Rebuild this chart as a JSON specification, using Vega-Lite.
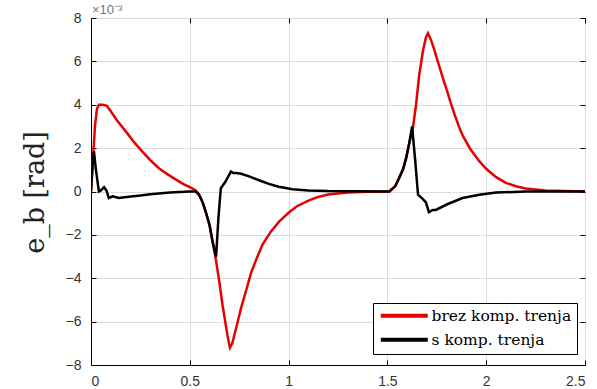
{
  "$schema": "https://vega.github.io/schema/vega-lite/v6.json",
  "width": 494,
  "height": 347,
  "autosize": {"type": "none"},
  "padding": {"left": 91, "top": 18, "right": 12, "bottom": 24},
  "background": "white",
  "title": {"text": "×10⁻³", "anchor": "start", "frame": "group", "fontSize": 13, "fontWeight": "normal", "color": "#777", "font": "Liberation Sans", "offset": -6, "dx": 1},
  "config": {
    "view": {"stroke": "black", "strokeWidth": 1},
    "axis": {"labelFont": "Liberation Sans", "labelFontSize": 14, "labelColor": "#333", "domainColor": "black", "tickColor": "black", "gridColor": "#dcdcdc", "tickSize": -5}
  },
  "data": {"values": [
    {"t":0,"e":0,"s":"brez komp. trenja"},
    {"t":0.01,"e":1.5,"s":"brez komp. trenja"},
    {"t":0.02,"e":3.0,"s":"brez komp. trenja"},
    {"t":0.03,"e":3.8,"s":"brez komp. trenja"},
    {"t":0.04,"e":4.0,"s":"brez komp. trenja"},
    {"t":0.06,"e":4.0,"s":"brez komp. trenja"},
    {"t":0.08,"e":3.95,"s":"brez komp. trenja"},
    {"t":0.10,"e":3.7,"s":"brez komp. trenja"},
    {"t":0.13,"e":3.3,"s":"brez komp. trenja"},
    {"t":0.177,"e":2.76,"s":"brez komp. trenja"},
    {"t":0.22,"e":2.25,"s":"brez komp. trenja"},
    {"t":0.26,"e":1.84,"s":"brez komp. trenja"},
    {"t":0.30,"e":1.45,"s":"brez komp. trenja"},
    {"t":0.345,"e":1.06,"s":"brez komp. trenja"},
    {"t":0.39,"e":0.78,"s":"brez komp. trenja"},
    {"t":0.43,"e":0.55,"s":"brez komp. trenja"},
    {"t":0.47,"e":0.33,"s":"brez komp. trenja"},
    {"t":0.51,"e":0.16,"s":"brez komp. trenja"},
    {"t":0.53,"e":0.05,"s":"brez komp. trenja"},
    {"t":0.547,"e":-0.15,"s":"brez komp. trenja"},
    {"t":0.565,"e":-0.5,"s":"brez komp. trenja"},
    {"t":0.58,"e":-0.92,"s":"brez komp. trenja"},
    {"t":0.60,"e":-1.55,"s":"brez komp. trenja"},
    {"t":0.615,"e":-2.3,"s":"brez komp. trenja"},
    {"t":0.633,"e":-3.2,"s":"brez komp. trenja"},
    {"t":0.65,"e":-4.2,"s":"brez komp. trenja"},
    {"t":0.665,"e":-5.2,"s":"brez komp. trenja"},
    {"t":0.69,"e":-6.6,"s":"brez komp. trenja"},
    {"t":0.703,"e":-7.2,"s":"brez komp. trenja"},
    {"t":0.715,"e":-7.0,"s":"brez komp. trenja"},
    {"t":0.74,"e":-6.1,"s":"brez komp. trenja"},
    {"t":0.76,"e":-5.35,"s":"brez komp. trenja"},
    {"t":0.784,"e":-4.6,"s":"brez komp. trenja"},
    {"t":0.81,"e":-3.75,"s":"brez komp. trenja"},
    {"t":0.84,"e":-3.05,"s":"brez komp. trenja"},
    {"t":0.868,"e":-2.45,"s":"brez komp. trenja"},
    {"t":0.91,"e":-1.85,"s":"brez komp. trenja"},
    {"t":0.953,"e":-1.38,"s":"brez komp. trenja"},
    {"t":1.0,"e":-0.98,"s":"brez komp. trenja"},
    {"t":1.04,"e":-0.69,"s":"brez komp. trenja"},
    {"t":1.10,"e":-0.42,"s":"brez komp. trenja"},
    {"t":1.15,"e":-0.25,"s":"brez komp. trenja"},
    {"t":1.2,"e":-0.14,"s":"brez komp. trenja"},
    {"t":1.3,"e":-0.05,"s":"brez komp. trenja"},
    {"t":1.4,"e":-0.01,"s":"brez komp. trenja"},
    {"t":1.51,"e":0,"s":"brez komp. trenja"},
    {"t":1.54,"e":0.25,"s":"brez komp. trenja"},
    {"t":1.56,"e":0.63,"s":"brez komp. trenja"},
    {"t":1.58,"e":1.05,"s":"brez komp. trenja"},
    {"t":1.595,"e":1.55,"s":"brez komp. trenja"},
    {"t":1.61,"e":2.2,"s":"brez komp. trenja"},
    {"t":1.63,"e":3.0,"s":"brez komp. trenja"},
    {"t":1.645,"e":4.0,"s":"brez komp. trenja"},
    {"t":1.66,"e":5.3,"s":"brez komp. trenja"},
    {"t":1.68,"e":6.5,"s":"brez komp. trenja"},
    {"t":1.695,"e":7.1,"s":"brez komp. trenja"},
    {"t":1.705,"e":7.3,"s":"brez komp. trenja"},
    {"t":1.72,"e":7.0,"s":"brez komp. trenja"},
    {"t":1.735,"e":6.6,"s":"brez komp. trenja"},
    {"t":1.755,"e":6.0,"s":"brez komp. trenja"},
    {"t":1.78,"e":5.25,"s":"brez komp. trenja"},
    {"t":1.8,"e":4.7,"s":"brez komp. trenja"},
    {"t":1.82,"e":4.1,"s":"brez komp. trenja"},
    {"t":1.84,"e":3.55,"s":"brez komp. trenja"},
    {"t":1.86,"e":3.05,"s":"brez komp. trenja"},
    {"t":1.88,"e":2.6,"s":"brez komp. trenja"},
    {"t":1.92,"e":1.95,"s":"brez komp. trenja"},
    {"t":1.965,"e":1.4,"s":"brez komp. trenja"},
    {"t":2.0,"e":1.05,"s":"brez komp. trenja"},
    {"t":2.05,"e":0.66,"s":"brez komp. trenja"},
    {"t":2.1,"e":0.4,"s":"brez komp. trenja"},
    {"t":2.15,"e":0.24,"s":"brez komp. trenja"},
    {"t":2.2,"e":0.14,"s":"brez komp. trenja"},
    {"t":2.3,"e":0.05,"s":"brez komp. trenja"},
    {"t":2.4,"e":0.02,"s":"brez komp. trenja"},
    {"t":2.5,"e":0,"s":"brez komp. trenja"},
    {"t":0,"e":0,"s":"s komp. trenja"},
    {"t":0.008,"e":1.2,"s":"s komp. trenja"},
    {"t":0.015,"e":1.85,"s":"s komp. trenja"},
    {"t":0.025,"e":1.0,"s":"s komp. trenja"},
    {"t":0.04,"e":0,"s":"s komp. trenja"},
    {"t":0.05,"e":0.05,"s":"s komp. trenja"},
    {"t":0.066,"e":0.2,"s":"s komp. trenja"},
    {"t":0.078,"e":0.05,"s":"s komp. trenja"},
    {"t":0.09,"e":-0.3,"s":"s komp. trenja"},
    {"t":0.11,"e":-0.22,"s":"s komp. trenja"},
    {"t":0.14,"e":-0.3,"s":"s komp. trenja"},
    {"t":0.18,"e":-0.25,"s":"s komp. trenja"},
    {"t":0.25,"e":-0.18,"s":"s komp. trenja"},
    {"t":0.3,"e":-0.13,"s":"s komp. trenja"},
    {"t":0.4,"e":-0.05,"s":"s komp. trenja"},
    {"t":0.5,"e":0,"s":"s komp. trenja"},
    {"t":0.53,"e":0,"s":"s komp. trenja"},
    {"t":0.547,"e":-0.15,"s":"s komp. trenja"},
    {"t":0.565,"e":-0.5,"s":"s komp. trenja"},
    {"t":0.58,"e":-0.92,"s":"s komp. trenja"},
    {"t":0.60,"e":-1.55,"s":"s komp. trenja"},
    {"t":0.615,"e":-2.3,"s":"s komp. trenja"},
    {"t":0.633,"e":-3.0,"s":"s komp. trenja"},
    {"t":0.645,"e":-1.2,"s":"s komp. trenja"},
    {"t":0.657,"e":0.15,"s":"s komp. trenja"},
    {"t":0.68,"e":0.45,"s":"s komp. trenja"},
    {"t":0.708,"e":0.92,"s":"s komp. trenja"},
    {"t":0.72,"e":0.85,"s":"s komp. trenja"},
    {"t":0.735,"e":0.85,"s":"s komp. trenja"},
    {"t":0.76,"e":0.82,"s":"s komp. trenja"},
    {"t":0.8,"e":0.7,"s":"s komp. trenja"},
    {"t":0.85,"e":0.52,"s":"s komp. trenja"},
    {"t":0.9,"e":0.35,"s":"s komp. trenja"},
    {"t":0.95,"e":0.22,"s":"s komp. trenja"},
    {"t":1.02,"e":0.1,"s":"s komp. trenja"},
    {"t":1.1,"e":0.05,"s":"s komp. trenja"},
    {"t":1.2,"e":0.02,"s":"s komp. trenja"},
    {"t":1.5,"e":0,"s":"s komp. trenja"},
    {"t":1.51,"e":0,"s":"s komp. trenja"},
    {"t":1.54,"e":0.25,"s":"s komp. trenja"},
    {"t":1.56,"e":0.63,"s":"s komp. trenja"},
    {"t":1.58,"e":1.05,"s":"s komp. trenja"},
    {"t":1.595,"e":1.55,"s":"s komp. trenja"},
    {"t":1.61,"e":2.2,"s":"s komp. trenja"},
    {"t":1.625,"e":3.0,"s":"s komp. trenja"},
    {"t":1.64,"e":1.5,"s":"s komp. trenja"},
    {"t":1.655,"e":-0.15,"s":"s komp. trenja"},
    {"t":1.68,"e":-0.35,"s":"s komp. trenja"},
    {"t":1.695,"e":-0.5,"s":"s komp. trenja"},
    {"t":1.71,"e":-0.95,"s":"s komp. trenja"},
    {"t":1.73,"e":-0.85,"s":"s komp. trenja"},
    {"t":1.745,"e":-0.85,"s":"s komp. trenja"},
    {"t":1.8,"e":-0.6,"s":"s komp. trenja"},
    {"t":1.88,"e":-0.3,"s":"s komp. trenja"},
    {"t":1.965,"e":-0.15,"s":"s komp. trenja"},
    {"t":2.05,"e":-0.05,"s":"s komp. trenja"},
    {"t":2.2,"e":0,"s":"s komp. trenja"},
    {"t":2.5,"e":0,"s":"s komp. trenja"}
  ]},
  "layer": [
    {
      "mark": {"type": "line", "strokeWidth": 2.5, "clip": true},
      "encoding": {
        "x": {"field": "t", "type": "quantitative", "scale": {"domain": [0, 2.5], "nice": false}, "axis": {"title": null, "values": [0, 0.5, 1, 1.5, 2, 2.5], "format": "~g", "labelPadding": 14}},
        "y": {"field": "e", "type": "quantitative", "scale": {"domain": [-8, 8], "nice": false}, "axis": {"title": "e_b [rad]", "titleFont": "DejaVu Serif", "titleFontSize": 27, "titleFontWeight": "normal", "titleColor": "#222", "titleX": -42, "titleY": 174, "labelPadding": 15, "values": [-8, -6, -4, -2, 0, 2, 4, 6, 8]}},
        "color": {"field": "s", "type": "nominal", "scale": {"domain": ["brez komp. trenja", "s komp. trenja"], "range": ["#e60000", "#000000"]}, "legend": {"title": null, "orient": "none", "legendX": 282, "legendY": 285, "symbolType": "M-1,0H8.4", "symbolStrokeWidth": 4, "symbolSize": 100, "labelFont": "DejaVu Serif", "labelFontSize": 15.5, "labelColor": "black", "strokeColor": "black", "fillColor": "white", "padding": 5, "rowPadding": 6, "labelOffset": 38}},
        "order": {"field": "t"}
      }
    },
    {
      "mark": {"type": "point", "opacity": 0},
      "encoding": {
        "x": {"field": "t", "type": "quantitative", "axis": {"orient": "top", "title": null, "labels": false, "grid": false, "domain": false, "values": [0, 0.5, 1, 1.5, 2, 2.5]}},
        "y": {"field": "e", "type": "quantitative", "axis": {"orient": "right", "title": null, "labels": false, "grid": false, "domain": false, "values": [-8, -6, -4, -2, 0, 2, 4, 6, 8]}}
      }
    }
  ],
  "resolve": {"axis": {"x": "independent", "y": "independent"}}
}
